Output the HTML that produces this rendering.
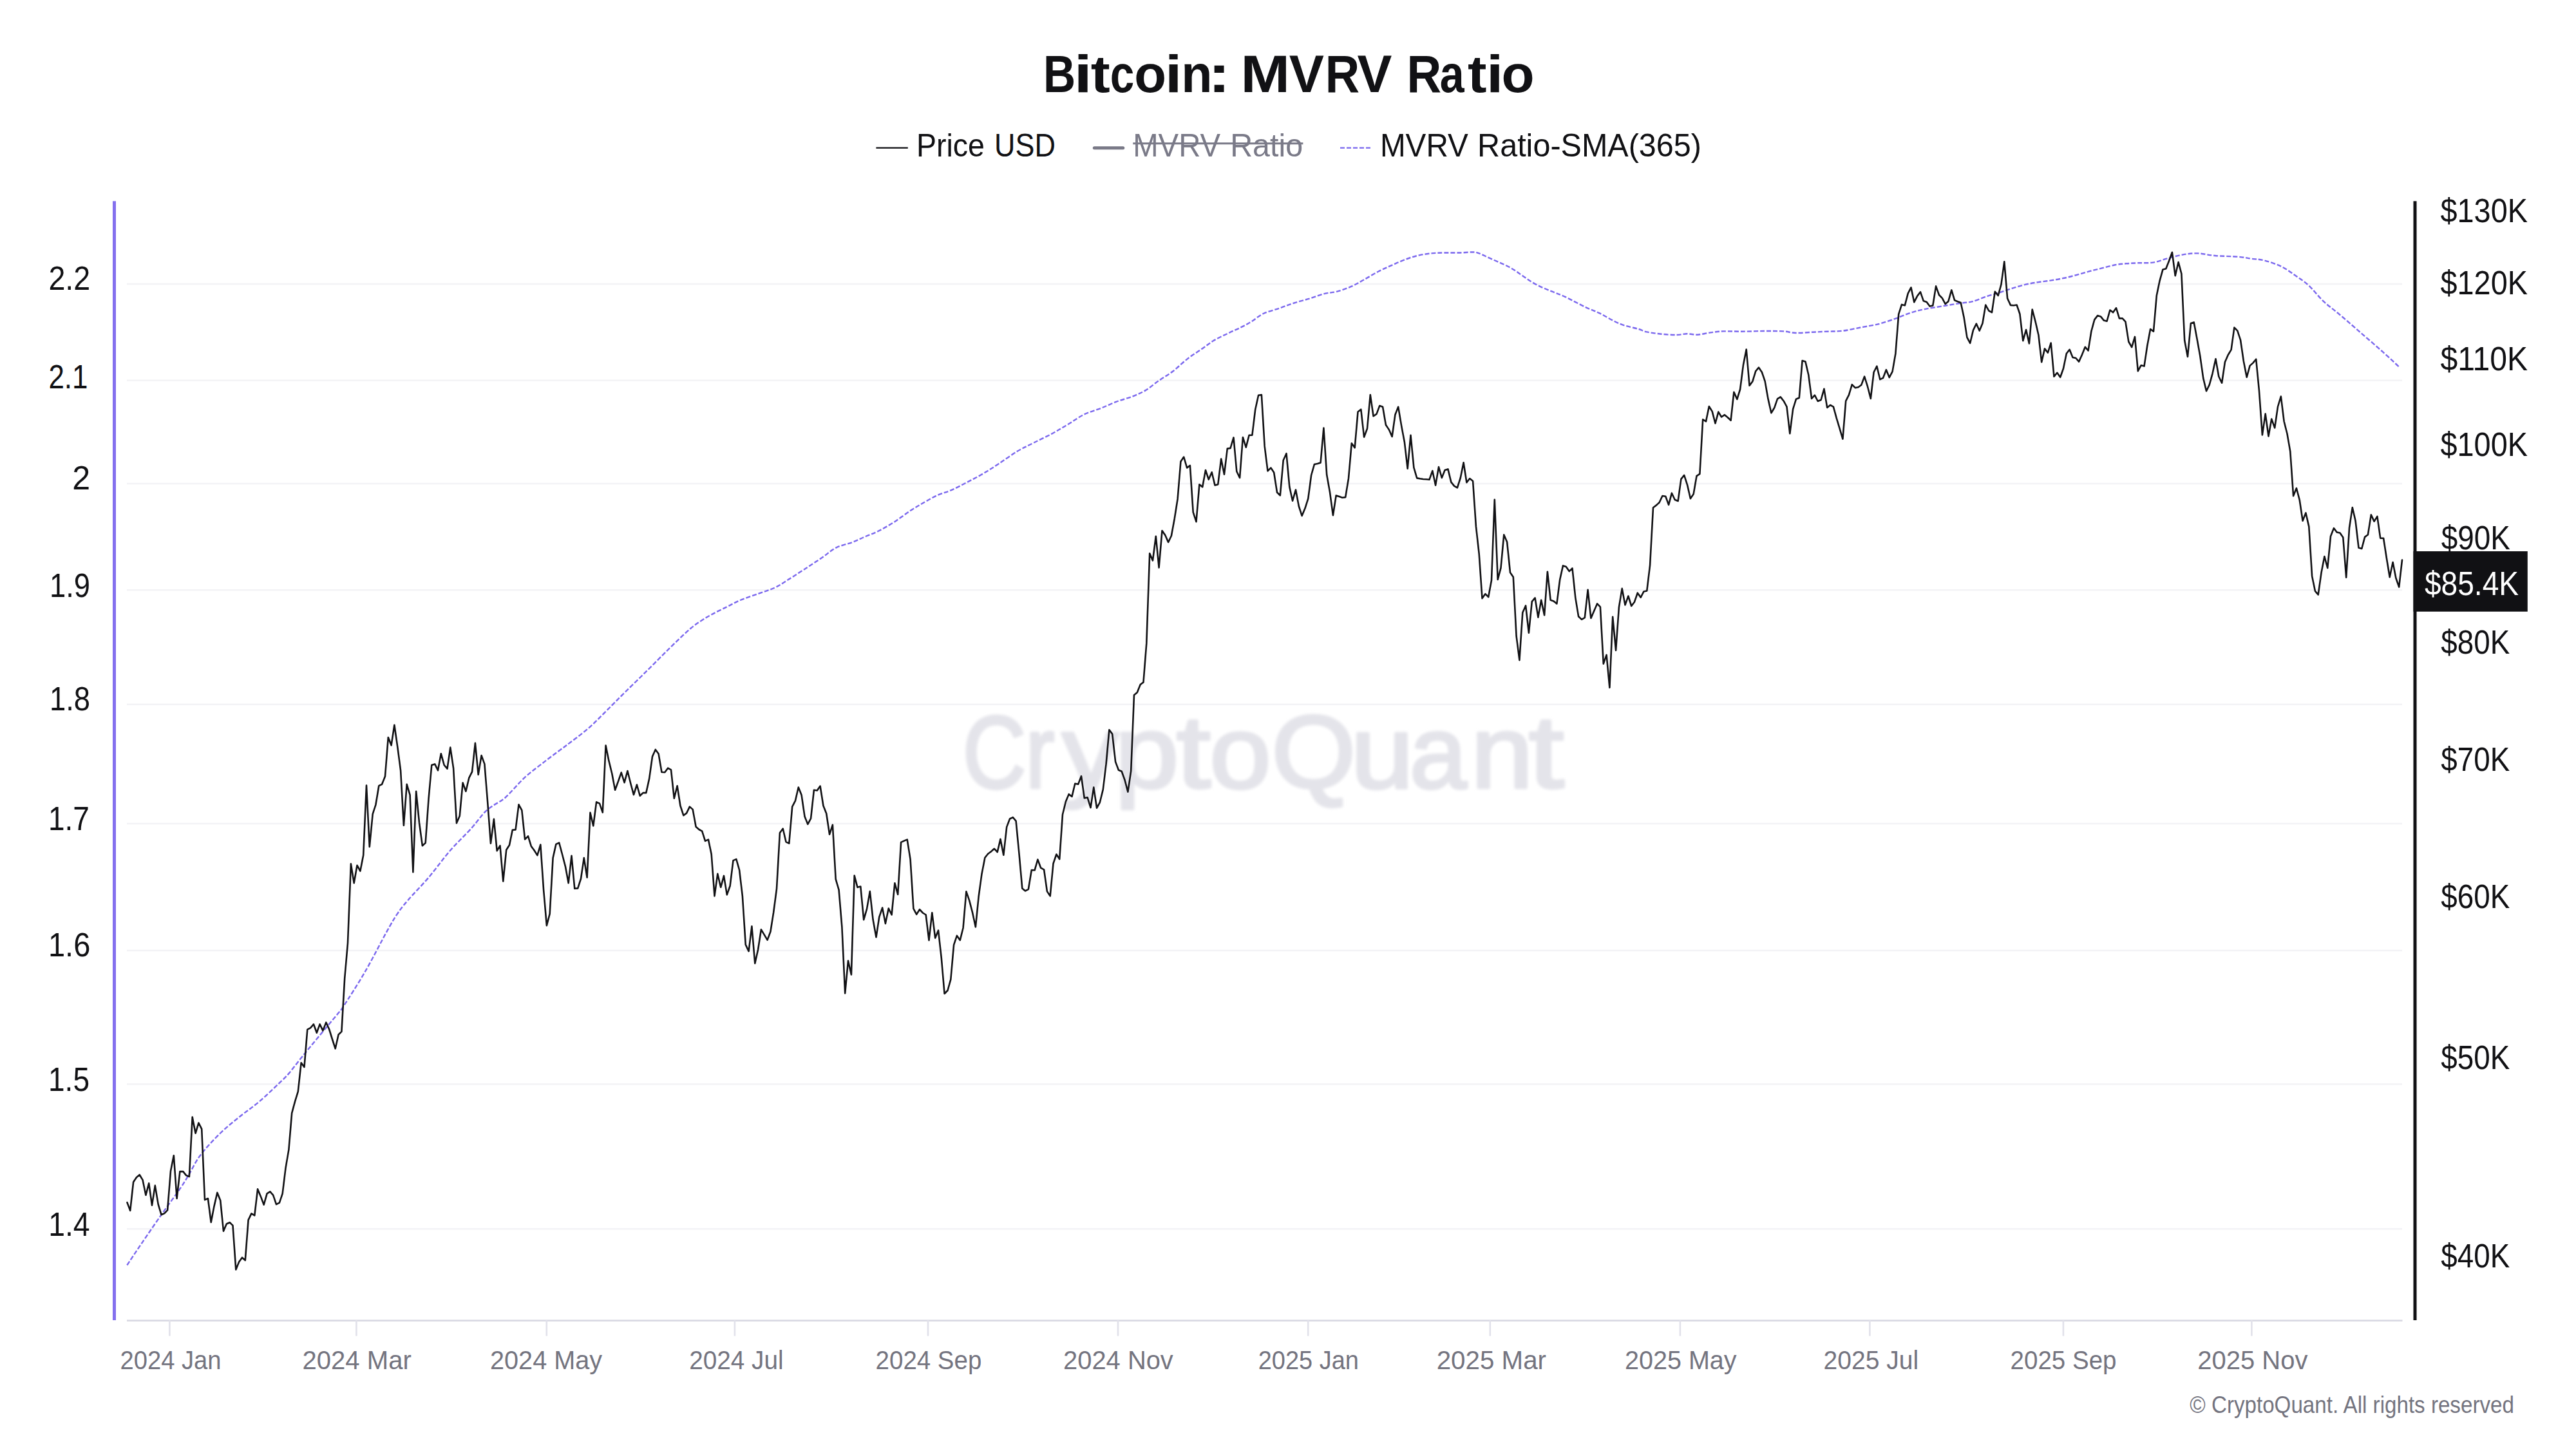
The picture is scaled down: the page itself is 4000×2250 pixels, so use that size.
<!DOCTYPE html>
<html><head><meta charset="utf-8"><title>Bitcoin: MVRV Ratio</title>
<style>
html,body{margin:0;padding:0;background:#fff;}
body{width:4000px;height:2250px;overflow:hidden;}
svg{display:block;}
text{font-family:"Liberation Sans",sans-serif;}
</style></head><body>
<svg width="4000" height="2250" viewBox="0 0 4000 2250">
<defs><filter id="wb" x="-5%" y="-20%" width="110%" height="140%"><feGaussianBlur stdDeviation="2.2"/></filter></defs>
<rect width="4000" height="2250" fill="#fff"/>
<line x1="197" x2="3730" y1="1908.2" y2="1908.2" stroke="#f3f3f6" stroke-width="2.5"/>
<line x1="197" x2="3730" y1="1683.5" y2="1683.5" stroke="#f3f3f6" stroke-width="2.5"/>
<line x1="197" x2="3730" y1="1475.9" y2="1475.9" stroke="#f3f3f6" stroke-width="2.5"/>
<line x1="197" x2="3730" y1="1279.0" y2="1279.0" stroke="#f3f3f6" stroke-width="2.5"/>
<line x1="197" x2="3730" y1="1093.7" y2="1093.7" stroke="#f3f3f6" stroke-width="2.5"/>
<line x1="197" x2="3730" y1="916.2" y2="916.2" stroke="#f3f3f6" stroke-width="2.5"/>
<line x1="197" x2="3730" y1="750.9" y2="750.9" stroke="#f3f3f6" stroke-width="2.5"/>
<line x1="197" x2="3730" y1="590.8" y2="590.8" stroke="#f3f3f6" stroke-width="2.5"/>
<line x1="197" x2="3730" y1="441.1" y2="441.1" stroke="#f3f3f6" stroke-width="2.5"/>
<text y="1222.8" font-size="160" fill="#e4e4ea" stroke="#e4e4ea" stroke-width="4.5" stroke-linejoin="round" filter="url(#wb)"><tspan x="1494.7" textLength="98.6" lengthAdjust="spacingAndGlyphs">C</tspan><tspan x="1592.3" textLength="45.3" lengthAdjust="spacingAndGlyphs">r</tspan><tspan x="1649.1" textLength="87.8" lengthAdjust="spacingAndGlyphs">y</tspan><tspan x="1731.0" textLength="99.5" lengthAdjust="spacingAndGlyphs">p</tspan><tspan x="1826.8" textLength="53.1" lengthAdjust="spacingAndGlyphs">t</tspan><tspan x="1878.2" textLength="95.5" lengthAdjust="spacingAndGlyphs">o</tspan><tspan x="1974.5" textLength="130.8" lengthAdjust="spacingAndGlyphs">Q</tspan><tspan x="2097.2" textLength="98.1" lengthAdjust="spacingAndGlyphs">u</tspan><tspan x="2188.8" textLength="88.8" lengthAdjust="spacingAndGlyphs">a</tspan><tspan x="2284.0" textLength="96.7" lengthAdjust="spacingAndGlyphs">n</tspan><tspan x="2373.8" textLength="54.9" lengthAdjust="spacingAndGlyphs">t</tspan></text>
<line x1="197" x2="3730.5" y1="2050.6" y2="2050.6" stroke="#d9d9e3" stroke-width="2.6"/>
<line x1="263.4" x2="263.4" y1="2050" y2="2074.5" stroke="#e1e1ea" stroke-width="2.6"/>
<line x1="553.4" x2="553.4" y1="2050" y2="2074.5" stroke="#e1e1ea" stroke-width="2.6"/>
<line x1="848.8" x2="848.8" y1="2050" y2="2074.5" stroke="#e1e1ea" stroke-width="2.6"/>
<line x1="1140.9" x2="1140.9" y1="2050" y2="2074.5" stroke="#e1e1ea" stroke-width="2.6"/>
<line x1="1441.0" x2="1441.0" y1="2050" y2="2074.5" stroke="#e1e1ea" stroke-width="2.6"/>
<line x1="1736.0" x2="1736.0" y1="2050" y2="2074.5" stroke="#e1e1ea" stroke-width="2.6"/>
<line x1="2031.2" x2="2031.2" y1="2050" y2="2074.5" stroke="#e1e1ea" stroke-width="2.6"/>
<line x1="2313.8" x2="2313.8" y1="2050" y2="2074.5" stroke="#e1e1ea" stroke-width="2.6"/>
<line x1="2608.9" x2="2608.9" y1="2050" y2="2074.5" stroke="#e1e1ea" stroke-width="2.6"/>
<line x1="2903.4" x2="2903.4" y1="2050" y2="2074.5" stroke="#e1e1ea" stroke-width="2.6"/>
<line x1="3203.9" x2="3203.9" y1="2050" y2="2074.5" stroke="#e1e1ea" stroke-width="2.6"/>
<line x1="3496.4" x2="3496.4" y1="2050" y2="2074.5" stroke="#e1e1ea" stroke-width="2.6"/>
<rect x="175" y="312.3" width="5" height="1737.7" fill="#8470ee"/>
<rect x="3747.5" y="312.3" width="5" height="1737.7" fill="#111114"/>
<path d="M197.3 1964.5 C201.2 1958.7 211.7 1942.8 220.7 1929.6 C229.6 1916.5 240.9 1900.0 251.0 1885.6 C261.2 1871.2 274.2 1853.7 281.4 1843.1 C288.7 1832.4 289.4 1830.2 294.5 1821.8 C299.5 1813.4 303.8 1803.3 311.8 1792.9 C319.7 1782.6 332.0 1769.4 342.2 1759.5 C352.3 1749.7 362.4 1741.9 372.5 1733.7 C382.7 1725.5 392.8 1718.9 402.9 1710.3 C413.0 1701.7 425.7 1689.3 433.3 1682.1 C440.9 1674.8 442.4 1673.9 448.5 1666.9 C454.5 1659.9 462.1 1649.5 469.7 1640.2 C477.3 1630.8 484.9 1621.7 494.0 1610.7 C503.1 1599.7 517.8 1582.3 524.4 1574.3 C531.0 1566.2 526.4 1573.3 533.4 1562.5 C540.4 1551.7 555.5 1528.6 566.5 1509.5 C577.6 1490.5 591.4 1463.2 599.6 1448.3 C607.9 1433.4 610.7 1428.4 616.2 1420.1 C621.7 1411.9 624.5 1408.3 632.8 1398.6 C641.0 1389.0 654.8 1375.2 665.9 1362.2 C676.9 1349.2 687.9 1333.5 699.0 1320.8 C710.0 1308.1 723.3 1295.9 732.1 1286.0 C740.9 1276.2 746.4 1267.7 752.0 1261.9 C757.5 1256.1 759.7 1255.2 765.2 1251.3 C770.7 1247.3 776.8 1245.4 785.1 1238.0 C793.3 1230.7 804.9 1216.3 814.9 1207.2 C824.8 1198.1 835.3 1190.7 844.7 1183.4 C854.1 1176.1 865.2 1167.9 871.2 1163.5 C877.1 1159.1 873.3 1162.2 880.3 1156.8 C887.3 1151.4 903.1 1140.1 913.4 1131.1 C923.8 1122.2 932.7 1112.5 942.4 1103.0 C952.1 1093.5 961.0 1084.2 971.4 1074.0 C981.7 1063.8 993.5 1052.6 1004.5 1041.7 C1015.6 1030.8 1027.3 1018.7 1037.6 1008.6 C1048.0 998.4 1059.0 987.7 1066.6 980.9 C1074.2 974.0 1077.0 972.0 1083.2 967.6 C1089.4 963.3 1096.3 959.0 1103.9 954.8 C1111.5 950.6 1121.1 946.1 1128.7 942.3 C1136.3 938.6 1141.1 935.4 1149.4 932.0 C1157.7 928.5 1169.4 924.9 1178.4 921.6 C1187.4 918.4 1195.7 916.1 1203.3 912.5 C1210.8 908.9 1215.7 905.3 1224.0 900.1 C1232.2 894.9 1244.0 887.3 1252.9 881.5 C1261.9 875.6 1270.2 870.1 1277.8 864.9 C1285.4 859.7 1290.9 854.2 1298.5 850.4 C1306.1 846.6 1315.7 845.0 1323.3 842.1 C1330.9 839.2 1337.1 836.0 1344.0 833.0 C1350.9 830.1 1357.1 828.2 1364.7 824.3 C1372.3 820.5 1381.3 815.2 1389.6 809.9 C1397.9 804.5 1406.8 797.4 1414.4 792.5 C1422.0 787.5 1428.2 784.0 1435.1 780.0 C1442.0 776.1 1448.9 772.0 1455.8 768.9 C1462.7 765.8 1468.9 764.7 1476.5 761.4 C1484.1 758.1 1493.1 753.3 1501.4 749.0 C1509.6 744.7 1517.9 740.6 1526.2 735.7 C1534.5 730.9 1542.1 725.9 1551.0 720.0 C1560.0 714.1 1571.1 705.9 1580.0 700.5 C1589.0 695.2 1595.9 692.3 1604.9 687.7 C1613.8 683.2 1624.9 678.0 1633.9 673.2 C1642.8 668.4 1650.4 663.7 1658.7 658.7 C1667.0 653.8 1675.3 647.5 1683.5 643.4 C1691.8 639.3 1700.1 637.5 1708.4 634.3 C1716.7 631.1 1724.9 627.1 1733.2 623.9 C1741.5 620.8 1750.5 618.6 1758.1 615.7 C1765.7 612.7 1771.9 610.2 1778.8 606.1 C1785.7 602.1 1792.2 596.1 1799.4 591.1 C1806.6 586.1 1814.3 581.8 1821.7 576.2 C1829.1 570.5 1836.5 562.8 1844.0 557.1 C1851.4 551.3 1859.4 546.6 1866.2 541.8 C1873.1 537.0 1878.4 532.5 1885.3 528.4 C1892.2 524.3 1900.7 520.6 1907.6 517.3 C1914.5 513.9 1920.9 511.3 1926.7 508.4 C1932.6 505.4 1936.8 503.3 1942.6 499.8 C1948.5 496.2 1954.3 490.6 1961.7 487.0 C1969.2 483.5 1979.3 481.2 1987.2 478.4 C1995.2 475.7 2001.5 473.0 2009.5 470.5 C2017.5 467.9 2027.0 465.6 2035.0 463.2 C2042.9 460.7 2050.3 457.6 2057.2 455.8 C2064.1 454.1 2069.4 454.5 2076.3 452.6 C2083.2 450.8 2091.7 447.7 2098.6 444.7 C2105.5 441.7 2110.8 438.3 2117.7 434.5 C2124.6 430.7 2132.6 425.6 2140.0 421.8 C2147.4 417.9 2154.9 414.6 2162.3 411.3 C2169.7 408.0 2177.7 404.5 2184.6 402.0 C2191.5 399.5 2197.3 397.7 2203.7 396.3 C2210.0 394.9 2216.4 394.1 2222.8 393.4 C2229.1 392.8 2234.4 392.6 2241.9 392.5 C2249.3 392.3 2259.9 392.6 2267.3 392.5 C2274.8 392.3 2281.7 391.4 2286.4 391.5 C2291.2 391.6 2291.2 391.4 2296.0 393.1 C2300.8 394.8 2307.1 398.1 2315.1 401.7 C2323.0 405.3 2335.8 410.5 2343.7 414.8 C2351.7 419.0 2356.5 423.0 2362.8 427.2 C2369.2 431.4 2375.0 436.0 2381.9 439.9 C2388.8 443.8 2396.3 447.0 2404.2 450.4 C2412.2 453.9 2420.1 456.2 2429.7 460.6 C2439.2 465.0 2452.5 472.5 2461.5 476.8 C2470.5 481.1 2474.8 482.0 2483.8 486.4 C2492.8 490.7 2505.5 498.9 2515.6 502.9 C2525.7 507.0 2537.4 508.8 2544.3 510.9 C2551.1 513.0 2550.9 514.1 2556.9 515.4 C2562.8 516.7 2572.3 517.9 2580.0 518.7 C2587.8 519.5 2596.6 520.1 2603.2 520.0 C2609.8 519.9 2614.3 518.4 2619.8 518.3 C2625.3 518.3 2630.3 520.0 2636.3 519.7 C2642.4 519.3 2649.6 517.2 2656.2 516.4 C2662.8 515.5 2667.8 514.7 2676.1 514.4 C2684.3 514.1 2695.4 514.8 2705.9 514.7 C2716.3 514.7 2728.5 514.1 2739.0 514.0 C2749.5 514.0 2760.5 513.9 2768.8 514.4 C2777.1 514.9 2780.9 516.8 2788.6 517.0 C2796.4 517.2 2806.9 516.1 2815.1 515.7 C2823.4 515.3 2830.6 515.0 2838.3 514.7 C2846.0 514.4 2853.2 514.7 2861.5 513.7 C2869.8 512.7 2879.7 510.3 2888.0 508.7 C2896.3 507.2 2905.8 505.5 2911.2 504.4 C2916.5 503.4 2914.9 503.9 2920.3 502.3 C2925.7 500.7 2935.8 497.5 2943.5 494.7 C2951.2 491.9 2958.9 488.2 2966.7 485.8 C2974.4 483.3 2981.0 481.6 2989.8 479.8 C2998.7 478.0 3010.3 476.4 3019.6 474.8 C3029.0 473.3 3039.0 471.6 3046.1 470.5 C3053.3 469.4 3056.1 470.0 3062.7 468.2 C3069.3 466.4 3078.7 462.3 3085.9 459.9 C3093.0 457.6 3099.1 456.1 3105.7 454.0 C3112.4 451.9 3119.0 449.4 3125.6 447.4 C3132.2 445.3 3138.8 443.3 3145.5 441.7 C3152.1 440.2 3158.7 439.1 3165.3 438.1 C3172.0 437.0 3178.6 436.5 3185.2 435.4 C3191.8 434.4 3198.4 433.2 3205.1 431.8 C3211.7 430.4 3218.3 428.6 3224.9 426.8 C3231.6 425.1 3238.2 423.0 3244.8 421.2 C3251.4 419.4 3258.0 417.9 3264.7 416.2 C3271.3 414.6 3278.5 412.4 3284.5 411.3 C3290.6 410.1 3295.2 409.8 3301.1 409.3 C3307.0 408.8 3313.1 408.6 3320.2 408.3 C3327.2 408.0 3335.6 408.8 3343.3 407.6 C3351.1 406.4 3358.8 403.0 3366.5 401.0 C3374.3 399.0 3382.0 396.6 3389.7 395.4 C3397.4 394.1 3404.6 393.1 3412.9 393.4 C3421.2 393.7 3428.9 396.1 3439.4 397.0 C3449.9 397.9 3466.4 397.9 3475.8 398.7 C3485.2 399.5 3489.0 400.7 3495.7 401.7 C3502.3 402.6 3507.8 402.3 3515.5 404.3 C3523.3 406.3 3533.7 409.6 3542.0 413.6 C3550.3 417.6 3558.0 423.5 3565.2 428.5 C3572.4 433.4 3577.9 436.8 3585.1 443.4 C3592.2 450.0 3600.5 460.9 3608.2 468.2 C3616.0 475.5 3622.0 479.2 3631.4 487.1 C3640.8 495.0 3653.1 505.6 3664.5 515.6 C3676.0 525.5 3690.1 537.6 3700.3 546.7 C3710.5 555.8 3721.4 566.1 3725.6 570.0" fill="none" stroke="#7b68ee" stroke-width="2.4" stroke-dasharray="7 3"/>
<path d="M197.4 1867.1 L202.2 1879.8 L207.1 1835.5 L211.9 1828.2 L216.7 1824.2 L221.5 1832.1 L226.4 1855.8 L231.2 1837.3 L236.0 1871.6 L240.8 1840.9 L245.7 1870.1 L250.5 1886.2 L255.3 1884.1 L260.1 1879.2 L265.0 1818.5 L269.8 1794.2 L274.6 1861.0 L279.4 1819.1 L284.3 1819.1 L289.1 1825.1 L293.9 1827.0 L298.7 1734.6 L303.6 1759.8 L308.4 1743.7 L313.2 1753.2 L318.0 1863.1 L322.9 1861.0 L327.7 1898.0 L332.5 1873.1 L337.4 1851.9 L342.2 1864.0 L347.0 1911.7 L351.8 1900.5 L356.7 1898.3 L361.5 1902.9 L366.3 1971.5 L371.1 1959.4 L376.0 1952.7 L380.8 1957.0 L385.6 1894.4 L390.4 1884.4 L395.3 1887.4 L400.1 1846.4 L404.9 1857.9 L409.7 1870.7 L414.6 1853.4 L419.4 1850.4 L424.2 1855.8 L429.0 1870.1 L433.9 1867.7 L438.7 1853.4 L443.5 1813.9 L448.4 1785.1 L453.2 1728.3 L458.0 1710.6 L462.8 1694.8 L467.7 1650.2 L472.5 1656.9 L477.3 1598.6 L482.1 1596.1 L487.0 1590.4 L491.8 1603.7 L496.6 1590.4 L501.4 1600.4 L506.3 1587.6 L511.1 1598.0 L515.9 1613.5 L520.7 1628.3 L525.6 1606.5 L530.4 1601.9 L535.2 1519.2 L540.0 1464.5 L544.9 1341.4 L549.7 1371.2 L554.5 1343.7 L559.4 1352.6 L564.2 1328.1 L569.0 1219.5 L573.8 1314.9 L578.7 1264.2 L583.5 1249.3 L588.3 1220.2 L593.1 1217.8 L598.0 1205.6 L602.8 1145.0 L607.6 1157.3 L612.4 1125.8 L617.3 1159.9 L622.1 1196.3 L626.9 1281.8 L631.7 1217.8 L636.6 1234.4 L641.4 1354.3 L646.2 1228.8 L651.0 1277.5 L655.9 1313.2 L660.7 1308.9 L665.5 1241.0 L670.3 1188.0 L675.2 1186.4 L680.0 1196.3 L684.8 1170.2 L689.7 1188.0 L694.5 1193.7 L699.3 1160.6 L704.1 1193.0 L709.0 1278.1 L713.8 1266.9 L718.6 1215.5 L723.4 1228.8 L728.3 1207.9 L733.1 1198.3 L737.9 1153.9 L742.7 1202.9 L747.6 1173.1 L752.4 1186.4 L757.2 1246.0 L762.0 1309.6 L766.9 1271.8 L771.7 1321.2 L776.5 1313.2 L781.3 1368.5 L786.2 1319.8 L791.0 1312.2 L795.8 1288.7 L800.6 1288.4 L805.5 1249.3 L810.3 1258.2 L815.1 1303.3 L820.0 1298.3 L824.8 1313.9 L829.6 1320.5 L834.4 1328.1 L839.3 1311.6 L844.1 1381.8 L848.9 1437.1 L853.7 1418.8 L858.6 1332.1 L863.4 1310.9 L868.2 1308.6 L873.0 1326.5 L877.9 1345.3 L882.7 1371.2 L887.5 1328.8 L892.3 1379.8 L897.2 1379.4 L902.0 1364.5 L906.8 1332.1 L911.6 1362.6 L916.5 1261.9 L921.3 1282.4 L926.1 1245.3 L931.0 1247.7 L935.8 1261.6 L940.6 1157.6 L945.4 1181.4 L950.3 1201.3 L955.1 1226.8 L959.9 1213.5 L964.7 1199.6 L969.6 1215.2 L974.4 1197.0 L979.2 1216.2 L984.0 1234.1 L988.9 1218.5 L993.7 1235.7 L998.5 1231.1 L1003.3 1231.1 L1008.2 1208.9 L1013.0 1174.8 L1017.8 1163.9 L1022.6 1170.5 L1027.5 1199.0 L1032.3 1199.3 L1037.1 1192.7 L1042.0 1195.3 L1046.8 1239.7 L1051.6 1220.2 L1056.4 1251.0 L1061.3 1266.2 L1066.1 1262.6 L1070.9 1252.6 L1075.7 1256.9 L1080.6 1283.7 L1085.4 1288.0 L1090.2 1290.7 L1095.0 1305.9 L1099.9 1303.6 L1104.7 1326.5 L1109.5 1391.4 L1114.3 1356.9 L1119.2 1377.8 L1124.0 1359.9 L1128.8 1389.4 L1133.6 1375.8 L1138.5 1336.1 L1143.3 1334.1 L1148.1 1351.0 L1152.9 1391.7 L1157.8 1466.9 L1162.6 1477.1 L1167.4 1438.4 L1172.3 1496.0 L1177.1 1474.5 L1181.9 1443.3 L1186.7 1451.3 L1191.6 1459.6 L1196.4 1446.7 L1201.2 1416.5 L1206.0 1380.1 L1210.9 1293.3 L1215.7 1286.7 L1220.5 1307.3 L1225.3 1309.6 L1230.2 1252.6 L1235.0 1243.3 L1239.8 1222.5 L1244.6 1234.4 L1249.5 1267.8 L1254.3 1279.8 L1259.1 1270.8 L1263.9 1226.8 L1268.8 1227.5 L1273.6 1220.5 L1278.4 1251.0 L1283.2 1263.2 L1288.1 1295.7 L1292.9 1280.8 L1297.7 1365.2 L1302.6 1381.8 L1307.4 1439.7 L1312.2 1542.4 L1317.0 1491.7 L1321.9 1513.5 L1326.7 1359.6 L1331.5 1377.8 L1336.3 1376.5 L1341.2 1428.1 L1346.0 1411.6 L1350.8 1384.1 L1355.6 1428.1 L1360.5 1455.3 L1365.3 1423.8 L1370.1 1409.6 L1374.9 1434.1 L1379.8 1410.6 L1384.6 1420.5 L1389.4 1371.2 L1394.2 1389.0 L1399.1 1307.9 L1403.9 1305.6 L1408.7 1303.6 L1413.6 1334.4 L1418.4 1410.9 L1423.2 1419.8 L1428.0 1412.2 L1432.9 1417.5 L1437.7 1420.5 L1442.5 1460.2 L1447.3 1417.2 L1452.2 1456.6 L1457.0 1444.7 L1461.8 1487.7 L1466.6 1543.0 L1471.5 1538.0 L1476.3 1520.8 L1481.1 1467.2 L1485.9 1452.9 L1490.8 1459.9 L1495.6 1440.7 L1500.4 1384.4 L1505.2 1398.3 L1510.1 1417.2 L1514.9 1439.4 L1519.7 1391.7 L1524.5 1356.9 L1529.4 1331.8 L1534.2 1325.8 L1539.0 1322.2 L1543.9 1317.8 L1548.7 1323.1 L1553.5 1302.9 L1558.3 1327.8 L1563.2 1284.1 L1568.0 1271.5 L1572.8 1269.2 L1577.6 1274.8 L1582.5 1325.5 L1587.3 1379.4 L1592.1 1383.4 L1596.9 1380.8 L1601.8 1351.0 L1606.6 1351.3 L1611.4 1334.7 L1616.2 1347.7 L1621.1 1350.3 L1625.9 1384.1 L1630.7 1391.4 L1635.5 1341.0 L1640.4 1326.5 L1645.2 1334.1 L1650.0 1264.7 L1654.9 1244.8 L1659.7 1233.2 L1664.5 1236.9 L1669.3 1216.7 L1674.2 1217.7 L1679.0 1205.1 L1683.8 1239.2 L1688.6 1238.2 L1693.5 1254.1 L1698.3 1222.6 L1703.1 1254.7 L1707.9 1245.8 L1712.8 1225.9 L1717.6 1186.2 L1722.4 1133.2 L1727.2 1139.8 L1732.1 1182.9 L1736.9 1195.8 L1741.7 1197.8 L1746.5 1211.0 L1751.4 1229.6 L1756.2 1197.1 L1761.0 1079.2 L1765.8 1075.3 L1770.7 1063.0 L1775.5 1059.4 L1780.3 998.9 L1785.2 859.2 L1790.0 870.4 L1794.8 832.7 L1799.6 881.4 L1804.5 824.1 L1809.3 831.0 L1814.1 842.0 L1818.9 832.0 L1823.8 805.2 L1828.6 774.7 L1833.4 716.8 L1838.2 709.5 L1843.1 726.4 L1847.9 722.8 L1852.7 795.3 L1857.5 810.2 L1862.4 752.2 L1867.2 756.2 L1872.0 730.0 L1876.8 744.6 L1881.7 733.3 L1886.5 753.5 L1891.3 752.2 L1896.2 712.5 L1901.0 736.7 L1905.8 696.6 L1910.6 695.9 L1915.5 679.4 L1920.3 732.0 L1925.1 742.0 L1929.9 679.0 L1934.8 694.6 L1939.6 675.7 L1944.4 675.7 L1949.2 636.0 L1954.1 613.8 L1958.9 613.1 L1963.7 692.9 L1968.5 731.4 L1973.4 726.4 L1978.2 733.7 L1983.0 764.5 L1987.8 769.4 L1992.7 714.8 L1997.5 704.2 L2002.3 755.9 L2007.1 777.7 L2012.0 760.5 L2016.8 786.0 L2021.6 800.9 L2026.5 789.3 L2031.3 774.1 L2036.1 738.0 L2040.9 721.1 L2045.8 720.1 L2050.6 718.4 L2055.4 664.5 L2060.2 737.3 L2065.1 764.8 L2069.9 800.2 L2074.7 769.4 L2079.5 771.1 L2084.4 772.8 L2089.2 772.1 L2094.0 742.9 L2098.8 688.3 L2103.7 695.3 L2108.5 639.6 L2113.3 635.7 L2118.1 678.7 L2123.0 665.5 L2127.8 613.1 L2132.6 646.3 L2137.5 642.9 L2142.3 630.0 L2147.1 631.7 L2151.9 659.8 L2156.8 667.1 L2161.6 678.1 L2166.4 644.0 L2171.2 631.8 L2176.1 660.9 L2180.9 686.4 L2185.7 727.8 L2190.5 675.8 L2195.4 726.1 L2200.2 742.4 L2205.0 743.3 L2209.8 744.0 L2214.7 744.3 L2219.5 744.7 L2224.3 731.1 L2229.1 753.6 L2234.0 725.1 L2238.8 742.0 L2243.6 730.1 L2248.4 728.4 L2253.3 748.6 L2258.1 754.6 L2262.9 757.3 L2267.8 742.0 L2272.6 718.2 L2277.4 749.3 L2282.2 743.0 L2287.1 747.0 L2291.9 817.2 L2296.7 860.2 L2301.5 929.1 L2306.4 922.2 L2311.2 927.1 L2316.0 901.0 L2320.8 775.8 L2325.7 900.0 L2330.5 881.8 L2335.3 830.4 L2340.1 841.4 L2345.0 889.0 L2349.8 896.0 L2354.6 987.7 L2359.4 1025.1 L2364.3 951.3 L2369.1 940.4 L2373.9 982.8 L2378.8 934.1 L2383.6 928.4 L2388.4 958.6 L2393.2 931.8 L2398.1 955.3 L2402.9 887.7 L2407.7 931.8 L2412.5 933.4 L2417.4 937.4 L2422.2 900.0 L2427.0 878.4 L2431.8 880.1 L2436.7 887.1 L2441.5 882.4 L2446.3 928.1 L2451.1 957.3 L2456.0 961.9 L2460.8 959.2 L2465.6 915.9 L2470.4 959.9 L2475.3 948.6 L2480.1 937.4 L2484.9 942.4 L2489.8 1030.8 L2494.6 1016.9 L2499.4 1067.8 L2504.2 957.9 L2509.1 1009.9 L2513.9 943.0 L2518.7 913.9 L2523.5 939.4 L2528.4 925.5 L2533.2 941.0 L2538.0 934.7 L2542.8 920.7 L2547.7 927.7 L2552.5 918.4 L2557.3 917.4 L2562.1 877.7 L2567.0 788.2 L2571.8 784.6 L2576.6 780.3 L2581.4 770.0 L2586.3 770.7 L2591.1 783.9 L2595.9 765.7 L2600.7 776.0 L2605.6 778.0 L2610.4 743.9 L2615.2 737.9 L2620.1 753.1 L2624.9 774.3 L2629.7 767.1 L2634.5 739.2 L2639.4 735.9 L2644.2 651.2 L2649.0 654.5 L2653.8 631.0 L2658.7 638.9 L2663.5 657.5 L2668.3 639.6 L2673.1 647.5 L2678.0 644.2 L2682.8 648.2 L2687.6 652.8 L2692.4 608.8 L2697.3 620.0 L2702.1 604.5 L2706.9 567.1 L2711.7 542.6 L2716.6 598.8 L2721.4 592.2 L2726.2 576.3 L2731.0 570.7 L2735.9 578.0 L2740.7 592.2 L2745.5 619.4 L2750.4 641.2 L2755.2 633.3 L2760.0 619.4 L2764.8 616.4 L2769.7 622.7 L2774.5 631.6 L2779.3 673.3 L2784.1 635.3 L2789.0 619.7 L2793.8 617.7 L2798.6 560.1 L2803.4 561.4 L2808.3 582.3 L2813.1 619.0 L2817.9 613.7 L2822.7 623.0 L2827.6 621.0 L2832.4 603.8 L2837.2 632.9 L2842.0 629.0 L2846.9 631.6 L2851.7 649.2 L2856.5 665.1 L2861.4 681.6 L2866.2 622.7 L2871.0 613.1 L2875.8 597.2 L2880.7 602.2 L2885.5 601.2 L2890.3 597.8 L2895.1 584.6 L2900.0 600.2 L2904.8 619.0 L2909.6 578.0 L2914.4 568.7 L2919.3 589.2 L2924.1 586.8 L2928.9 574.2 L2933.7 586.1 L2938.6 576.9 L2943.4 549.0 L2948.2 487.8 L2953.0 472.9 L2957.9 474.2 L2962.7 455.7 L2967.5 446.4 L2972.3 469.2 L2977.2 459.6 L2982.0 453.3 L2986.8 467.3 L2991.7 468.9 L2996.5 475.5 L3001.3 474.5 L3006.1 444.4 L3011.0 458.0 L3015.8 462.9 L3020.6 471.9 L3025.4 467.9 L3030.3 450.4 L3035.1 466.3 L3039.9 468.2 L3044.7 469.9 L3049.6 492.8 L3054.4 523.9 L3059.2 532.8 L3064.0 512.6 L3068.9 502.7 L3073.7 513.6 L3078.5 502.0 L3083.3 473.5 L3088.2 482.5 L3093.0 485.1 L3097.8 452.7 L3102.7 459.0 L3107.5 441.4 L3112.3 406.3 L3117.1 463.3 L3122.0 473.9 L3126.8 474.2 L3131.6 473.5 L3136.4 487.5 L3141.3 529.2 L3146.1 512.0 L3150.9 533.5 L3155.7 480.5 L3160.6 499.4 L3165.4 520.2 L3170.2 562.3 L3175.0 541.4 L3179.9 547.7 L3184.7 532.5 L3189.5 584.8 L3194.3 578.8 L3199.2 585.8 L3204.0 572.2 L3208.8 549.0 L3213.6 542.8 L3218.5 555.0 L3223.3 556.0 L3228.1 561.6 L3233.0 550.7 L3237.8 538.8 L3242.6 544.4 L3247.4 514.3 L3252.3 496.4 L3257.1 490.1 L3261.9 491.4 L3266.7 497.4 L3271.6 498.7 L3276.4 481.5 L3281.2 485.1 L3286.0 478.2 L3290.9 494.4 L3295.7 494.4 L3300.5 499.7 L3305.3 530.5 L3310.2 539.1 L3315.0 522.9 L3319.8 576.2 L3324.6 567.3 L3329.5 568.6 L3334.3 536.8 L3339.1 511.0 L3344.0 514.6 L3348.8 459.0 L3353.6 435.8 L3358.4 418.6 L3363.3 417.3 L3368.1 405.0 L3372.9 391.8 L3377.7 428.2 L3382.6 407.0 L3387.4 425.2 L3392.2 528.5 L3397.0 554.0 L3401.9 502.0 L3406.7 500.4 L3411.5 525.9 L3416.3 552.7 L3421.2 587.1 L3426.0 607.3 L3430.8 597.4 L3435.6 579.8 L3440.5 557.3 L3445.3 584.8 L3450.1 594.7 L3454.9 562.3 L3459.8 551.0 L3464.6 543.1 L3469.4 508.6 L3474.3 513.6 L3479.1 528.2 L3483.9 561.0 L3488.7 585.8 L3493.6 567.9 L3498.4 563.6 L3503.2 557.7 L3508.0 607.2 L3512.9 675.4 L3517.7 642.6 L3522.5 677.4 L3527.3 650.6 L3532.2 664.4 L3537.0 631.5 L3541.8 615.5 L3546.6 654.2 L3551.5 673.5 L3556.3 701.1 L3561.1 770.1 L3565.9 758.0 L3570.8 776.5 L3575.6 808.8 L3580.4 796.4 L3585.3 817.6 L3590.1 894.4 L3594.9 917.8 L3599.7 923.4 L3604.6 888.9 L3609.4 864.0 L3614.2 882.0 L3619.0 832.8 L3623.9 820.1 L3628.7 826.5 L3633.5 827.6 L3638.3 834.5 L3643.2 896.6 L3648.0 819.8 L3652.8 788.1 L3657.6 808.8 L3662.5 850.5 L3667.3 851.9 L3672.1 833.9 L3676.9 830.3 L3681.8 799.4 L3686.6 809.6 L3691.4 801.9 L3696.2 835.6 L3701.1 835.8 L3705.9 866.8 L3710.7 896.3 L3715.6 873.1 L3720.4 897.7 L3725.2 911.5 L3730.0 869.5" fill="none" stroke="#111114" stroke-width="2.6" stroke-linejoin="round" stroke-linecap="round"/>
<rect x="3747.5" y="856" width="177.3" height="93.7" fill="#111114"/>
<line x1="1360.4" x2="1409.8" y1="229.7" y2="229.7" stroke="#111114" stroke-width="2.3"/>
<line x1="1699.3" x2="1743.8" y1="229.7" y2="229.7" stroke="#7a7a88" stroke-width="5" stroke-linecap="round"/>
<line x1="1759.3" x2="2023.4" y1="222.7" y2="222.7" stroke="#7a7a88" stroke-width="3"/>
<line x1="2081" x2="2128.3" y1="229.6" y2="229.6" stroke="#7b68ee" stroke-width="2.4" stroke-dasharray="7 3"/>
<text y="143.1" font-size="81.5" font-weight="700" fill="#111114"><tspan x="1620.1" textLength="50.1" lengthAdjust="spacingAndGlyphs">B</tspan><tspan x="1667.5" textLength="28.4" lengthAdjust="spacingAndGlyphs">i</tspan><tspan x="1693.7" textLength="30.0" lengthAdjust="spacingAndGlyphs">t</tspan><tspan x="1723.7" textLength="37.6" lengthAdjust="spacingAndGlyphs">c</tspan><tspan x="1761.2" textLength="49.8" lengthAdjust="spacingAndGlyphs">o</tspan><tspan x="1809.0" textLength="26.4" lengthAdjust="spacingAndGlyphs">i</tspan><tspan x="1834.3" textLength="48.3" lengthAdjust="spacingAndGlyphs">n</tspan><tspan x="1875.4" textLength="35.2" lengthAdjust="spacingAndGlyphs">:</tspan> <tspan x="1926.4" textLength="76.5" lengthAdjust="spacingAndGlyphs">M</tspan><tspan x="2001.8" textLength="54.2" lengthAdjust="spacingAndGlyphs">V</tspan><tspan x="2057.7" textLength="53.4" lengthAdjust="spacingAndGlyphs">R</tspan><tspan x="2107.4" textLength="53.9" lengthAdjust="spacingAndGlyphs">V</tspan> <tspan x="2184.6" textLength="53.7" lengthAdjust="spacingAndGlyphs">R</tspan><tspan x="2235.7" textLength="37.9" lengthAdjust="spacingAndGlyphs">a</tspan><tspan x="2278.9" textLength="29.5" lengthAdjust="spacingAndGlyphs">t</tspan><tspan x="2308.0" textLength="26.4" lengthAdjust="spacingAndGlyphs">i</tspan><tspan x="2331.5" textLength="51.1" lengthAdjust="spacingAndGlyphs">o</tspan></text>
<text x="1422.9" y="243.0" font-size="50.5" font-weight="400" fill="#111114" textLength="106.1" lengthAdjust="spacingAndGlyphs">Price</text>
<text x="1544.0" y="243.0" font-size="50.5" font-weight="400" fill="#111114" textLength="94.9" lengthAdjust="spacingAndGlyphs">USD</text>
<text x="1759.2" y="243.0" font-size="50.5" font-weight="400" fill="#7a7a88" textLength="135.9" lengthAdjust="spacingAndGlyphs">MVRV</text>
<text x="1910.2" y="243.0" font-size="50.5" font-weight="400" fill="#7a7a88" textLength="112.9" lengthAdjust="spacingAndGlyphs">Ratio</text>
<text x="2142.9" y="243.0" font-size="50.5" font-weight="400" fill="#111114" textLength="136.9" lengthAdjust="spacingAndGlyphs">MVRV</text>
<text x="2294.1" y="243.0" font-size="50.5" font-weight="400" fill="#111114" textLength="347.9" lengthAdjust="spacingAndGlyphs">Ratio-SMA(365)</text>
<text x="186.5" y="2125.6" font-size="40" font-weight="400" fill="#74747f" textLength="157.0" lengthAdjust="spacingAndGlyphs">2024 Jan</text>
<text x="469.5" y="2125.6" font-size="40" font-weight="400" fill="#74747f" textLength="169.3" lengthAdjust="spacingAndGlyphs">2024 Mar</text>
<text x="761.0" y="2125.6" font-size="40" font-weight="400" fill="#74747f" textLength="174.2" lengthAdjust="spacingAndGlyphs">2024 May</text>
<text x="1070.2" y="2125.6" font-size="40" font-weight="400" fill="#74747f" textLength="146.4" lengthAdjust="spacingAndGlyphs">2024 Jul</text>
<text x="1359.6" y="2125.6" font-size="40" font-weight="400" fill="#74747f" textLength="164.7" lengthAdjust="spacingAndGlyphs">2024 Sep</text>
<text x="1651.1" y="2125.6" font-size="40" font-weight="400" fill="#74747f" textLength="170.7" lengthAdjust="spacingAndGlyphs">2024 Nov</text>
<text x="1953.7" y="2125.6" font-size="40" font-weight="400" fill="#74747f" textLength="156.2" lengthAdjust="spacingAndGlyphs">2025 Jan</text>
<text x="2230.7" y="2125.6" font-size="40" font-weight="400" fill="#74747f" textLength="170.3" lengthAdjust="spacingAndGlyphs">2025 Mar</text>
<text x="2523.0" y="2125.6" font-size="40" font-weight="400" fill="#74747f" textLength="173.6" lengthAdjust="spacingAndGlyphs">2025 May</text>
<text x="2831.5" y="2125.6" font-size="40" font-weight="400" fill="#74747f" textLength="147.6" lengthAdjust="spacingAndGlyphs">2025 Jul</text>
<text x="3121.6" y="2125.6" font-size="40" font-weight="400" fill="#74747f" textLength="164.9" lengthAdjust="spacingAndGlyphs">2025 Sep</text>
<text x="3412.3" y="2125.6" font-size="40" font-weight="400" fill="#74747f" textLength="171.2" lengthAdjust="spacingAndGlyphs">2025 Nov</text>
<text x="75.2" y="1919.4" font-size="51" font-weight="400" fill="#111114" textLength="64.4" lengthAdjust="spacingAndGlyphs">1.4</text>
<text x="75.0" y="1694.3" font-size="51" font-weight="400" fill="#111114" textLength="64.0" lengthAdjust="spacingAndGlyphs">1.5</text>
<text x="75.0" y="1484.5" font-size="51" font-weight="400" fill="#111114" textLength="65.3" lengthAdjust="spacingAndGlyphs">1.6</text>
<text x="75.0" y="1289.2" font-size="51" font-weight="400" fill="#111114" textLength="63.9" lengthAdjust="spacingAndGlyphs">1.7</text>
<text x="77.0" y="1102.9" font-size="51" font-weight="400" fill="#111114" textLength="63.1" lengthAdjust="spacingAndGlyphs">1.8</text>
<text x="77.0" y="927.3" font-size="51" font-weight="400" fill="#111114" textLength="63.1" lengthAdjust="spacingAndGlyphs">1.9</text>
<text x="112.2" y="760.2" font-size="51" font-weight="400" fill="#111114" textLength="27.9" lengthAdjust="spacingAndGlyphs">2</text>
<text x="75.4" y="602.9" font-size="51" font-weight="400" fill="#111114" textLength="61.1" lengthAdjust="spacingAndGlyphs">2.1</text>
<text x="75.4" y="450.2" font-size="51" font-weight="400" fill="#111114" textLength="64.9" lengthAdjust="spacingAndGlyphs">2.2</text>
<text x="3789.5" y="344.8" font-size="51" font-weight="400" fill="#111114" textLength="135.5" lengthAdjust="spacingAndGlyphs">$130K</text>
<text x="3789.5" y="457.4" font-size="51" font-weight="400" fill="#111114" textLength="135.5" lengthAdjust="spacingAndGlyphs">$120K</text>
<text x="3789.5" y="575.4" font-size="51" font-weight="400" fill="#111114" textLength="135.5" lengthAdjust="spacingAndGlyphs">$110K</text>
<text x="3789.5" y="707.9" font-size="51" font-weight="400" fill="#111114" textLength="135.5" lengthAdjust="spacingAndGlyphs">$100K</text>
<text x="3790.7" y="853.0" font-size="51" font-weight="400" fill="#111114" textLength="107.1" lengthAdjust="spacingAndGlyphs">$90K</text>
<text x="3790.3" y="1015.3" font-size="51" font-weight="400" fill="#111114" textLength="106.9" lengthAdjust="spacingAndGlyphs">$80K</text>
<text x="3790.3" y="1197.4" font-size="51" font-weight="400" fill="#111114" textLength="106.9" lengthAdjust="spacingAndGlyphs">$70K</text>
<text x="3790.3" y="1409.7" font-size="51" font-weight="400" fill="#111114" textLength="106.9" lengthAdjust="spacingAndGlyphs">$60K</text>
<text x="3790.3" y="1659.7" font-size="51" font-weight="400" fill="#111114" textLength="106.9" lengthAdjust="spacingAndGlyphs">$50K</text>
<text x="3790.3" y="1967.8" font-size="51" font-weight="400" fill="#111114" textLength="106.9" lengthAdjust="spacingAndGlyphs">$40K</text>
<text x="3764.9" y="924.0" font-size="51" font-weight="400" fill="#ffffff" textLength="146.2" lengthAdjust="spacingAndGlyphs">$85.4K</text>
<text x="3400.3" y="2194.3" font-size="37.2" font-weight="400" fill="#74747f" textLength="503.6" lengthAdjust="spacingAndGlyphs">© CryptoQuant. All rights reserved</text>
</svg>
</body></html>
